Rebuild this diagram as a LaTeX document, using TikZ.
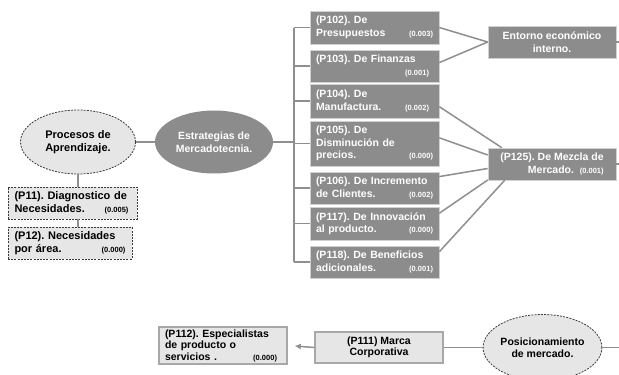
\documentclass[tikz,border=0pt]{standalone}
\usepackage{fontspec}
\setmainfont{Liberation Sans}
\usetikzlibrary{shapes.geometric,arrows.meta,calc}
\definecolor{boxgray}{HTML}{8C8C8C}
\definecolor{linegray}{HTML}{8F8F8F}
\definecolor{lightfill}{HTML}{E6E6E6}
\definecolor{darkline}{HTML}{3A3A3A}
\definecolor{softborder}{HTML}{A8A8A8}
\newcommand{\smallnum}[1]{{\fontsize{7.5}{9}\selectfont #1}}
\frenchspacing
\begin{document}
\begin{tikzpicture}[x=1pt,y=-1pt,
  font=\fontsize{10.5}{12.5}\selectfont\bfseries\frenchspacing,
  darkbox/.style={rectangle, fill=boxgray, draw=white!60!boxgray, line width=0.6pt,
    text=white, minimum width=129pt, text width=117pt, inner xsep=6pt, inner ysep=0pt, align=left},
  darkcenter/.style={rectangle, fill=boxgray, draw=white!60!boxgray, line width=0.6pt,
    text=white, minimum width=128pt, minimum height=32pt, inner ysep=0pt},
  lightbox/.style={rectangle, fill=lightfill, draw=darkline, dash pattern=on 2pt off 1.2pt,
    line width=0.8pt, text=black, inner xsep=6.5pt, inner ysep=0pt, align=left},
  solidbox/.style={rectangle, fill=lightfill, draw=softborder, line width=1.5pt, text=black, inner ysep=0pt,
    font=\fontsize{10.5}{11.5}\selectfont\bfseries\frenchspacing},
  darkoval/.style={ellipse, fill=boxgray, draw=none, text=white, inner sep=0pt, align=center},
  lightoval/.style={ellipse, fill=lightfill, draw=darkline, dash pattern=on 2pt off 1.2pt,
    line width=0.8pt, text=black, inner sep=0pt, align=center},
  conn/.style={draw=linegray, line width=1.5pt}
]
\path[use as bounding box, clip] (0,0) rectangle (619,375);

% left column
\node[lightoval, minimum width=115pt, minimum height=64pt, font=\fontsize{11}{13.5}\selectfont\bfseries] (proc) at (78,142) {Procesos de\\Aprendizaje.};
\node[darkoval, minimum width=118pt, minimum height=63pt] (estr) at (214,142) {Estrategias de\\Mercadotecnia.};
\node[lightbox, minimum width=129pt, minimum height=32pt, text width=116pt, font=\fontsize{11}{12.5}\selectfont\bfseries\frenchspacing] (p11) at (72.5,203) {(P11). Diagnostico de\\Necesidades.\hfill\smallnum{(0.005)}\hspace*{2pt}};
\node[lightbox, minimum width=124pt, minimum height=32pt, text width=111pt, font=\fontsize{11}{12.5}\selectfont\bfseries\frenchspacing] (p12) at (70,243) {(P12). Necesidades\\por área.\hfill\smallnum{(0.000)}};

% stacked boxes
\node[darkbox, minimum height=33pt] (p102) at (374.5,27.5) {(P102). De\\Presupuestos\hfill\smallnum{(0.003)}};
\node[darkbox, minimum height=32pt] (p103) at (374.5,66) {(P103). De Finanzas\\\hfill\smallnum{(0.001)}\hspace*{4pt}};
\node[darkbox, minimum height=34pt] (p104) at (374.5,101) {(P104). De\\Manufactura.\hfill\smallnum{(0.002)}\hspace*{4pt}};
\node[darkbox, minimum height=45pt] (p105) at (374.5,143.5) {(P105). De\\Disminución de\\precios.\hfill\smallnum{(0.000)}};
\node[darkbox, minimum height=32pt] (p106) at (374.5,188) {(P106). De Incremento\\de Clientes.\hfill\smallnum{(0.002)}};
\node[darkbox, minimum height=33pt] (p117) at (374.5,223.5) {(P117). De Innovación\\al producto.\hfill\smallnum{(0.000)}};
\node[darkbox, minimum height=32pt] (p118) at (374.5,262) {(P118). De Beneficios\\adicionales.\hfill\smallnum{(0.001)}};

% right targets
\node[darkcenter, align=center] (ent) at (552,42) {Entorno económico\\interno.};
\node[darkcenter, align=right] (p125) at (552,164) {(P125). De Mezcla de\\Mercado.\ \ \smallnum{(0.001)}};

% bottom row
\node[solidbox, minimum width=128pt, minimum height=37pt, text width=116pt, inner xsep=4pt, align=left] (p112) at (223,345.5) {(P112). Especialistas\\de producto o\\servicios .\hfill\smallnum{(0.000)}\hspace*{4pt}};
\node[solidbox, minimum width=128pt, minimum height=31pt, align=center] (p111) at (379,347.5) {(P111) Marca\\Corporativa};
\node[lightoval, minimum width=117pt, minimum height=66pt] (pos) at (542.5,347.5) {Posicionamiento\\de mercado.};

% free ends at the right edge
\coordinate (edgeA) at (630,42);
\coordinate (edgeB) at (630,164);
\coordinate (edgeC) at (630,347.5);
\coordinate (bus) at (294,142);

% connectors
\draw[conn] (proc.east) -- (estr.west);
\draw[conn] (proc.south) -- (proc.south |- p11.north);
\draw[conn] (p11.south -| proc.south) -- (p12.north -| proc.south);
\draw[conn] (estr.east) -- (bus);
\draw[conn] (p102.west -| bus) -- (p118.west -| bus);
\foreach \n in {p102,p103,p104,p105,p106,p117,p118}
  \draw[conn] (\n.west) -- (\n.west -| bus);
\draw[conn] (p102.east) -- (ent.west);
\draw[conn] (p103.3) -- (ent.west);
\draw[conn] (p104.355) -- (p125.162);
\draw[conn] (p105.5) -- (p125.172);
\draw[conn] (p106.10) -- (p125.184);
\draw[conn] (p117.9) -- (p125.194);
\draw[conn] (p118.9) -- (p125.199);
\draw[conn] (ent.east) -- (edgeA);
\draw[conn] (p125.east) -- (edgeB);
\draw[conn, -{Latex[length=6pt,width=6pt]}, shorten >=7pt] (p111.west) -- (p112.east);
\draw[conn] (p111.east) -- (pos.west);
\draw[conn] (pos.east) -- (edgeC);
\end{tikzpicture}
\end{document}
